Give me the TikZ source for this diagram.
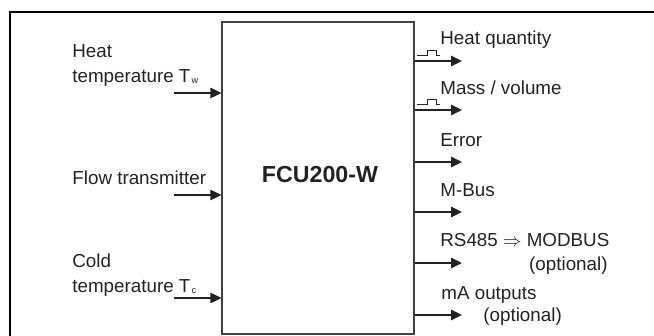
\documentclass[tikz,border=0pt]{standalone}
\usepackage{fontspec}
\setmainfont{Liberation Sans}
\usetikzlibrary{arrows.meta}
\definecolor{ink}{HTML}{222222}
\newcommand{\sub}[1]{\hspace{0.6pt}\raisebox{-0.4pt}{\fontsize{4.6}{5}\selectfont #1}}

\begin{document}
\begin{tikzpicture}[
  x=0.5pt,y=-0.5pt,
  font=\fontsize{9.4}{12.2}\selectfont,
  frame/.style={draw=black,line width=0.8pt},
  unit/.style={draw=black!75,line width=0.55pt,inner sep=0pt,
    minimum width=96pt,minimum height=156pt},
  sig/.style={draw=ink,line width=0.65pt,-{Triangle[length=5.5pt,width=5.2pt]}},
  pulse/.style={draw=ink,line width=0.45pt},
  lbl/.style={text=ink,inner sep=0pt},
]
\useasboundingbox (0,0) rectangle (654,336);
\draw[frame] (10,336) -- (10,12) -- (654,12);

% the unit
\node[unit] (fcu) at (318,178) {};
\node[lbl,font=\fontsize{11.6}{14}\selectfont\bfseries] (name) at (320,175) {FCU200-W};

% inputs
\coordinate (hw) at (174,93);
\coordinate (ft) at (174,195);
\coordinate (cw) at (174,298);
\draw[sig] (hw) -- (hw -| fcu.west);
\draw[sig] (ft) -- (ft -| fcu.west);
\draw[sig] (cw) -- (cw -| fcu.west);
\node[lbl,anchor=base west] (hwa) at (72,58) {Heat};
\node[lbl,anchor=base west] (hwb) at (72,83) {temperature T\sub{w}};
\node[lbl,anchor=base west] (fta) at (72,185) {Flow transmitter};
\node[lbl,anchor=base west] (cwa) at (72,268) {Cold};
\node[lbl,anchor=base west] (cwb) at (72,293) {temperature T\sub{c}};

% outputs
\coordinate (hq) at (462,61);
\coordinate (mv) at (462,110);
\coordinate (er) at (462,162);
\coordinate (mb) at (462,212);
\coordinate (rs) at (462,263);
\coordinate (ma) at (462,315);
\draw[sig] (hq -| fcu.east) -- (hq);
\draw[sig] (mv -| fcu.east) -- (mv);
\draw[sig] (er -| fcu.east) -- (er);
\draw[sig] (mb -| fcu.east) -- (mb);
\draw[sig] (rs -| fcu.east) -- (rs);
\draw[sig] (ma -| fcu.east) -- (ma);
\draw[pulse] (417,55.5) -- (427,55.5) -- (427,50.5) -- (436,50.5) -- (436,55.5) -- (440,55.5);
\draw[pulse] (417,104.5) -- (427,104.5) -- (427,99.5) -- (436,99.5) -- (436,104.5) -- (440,104.5);
\node[lbl,anchor=base west] (hqa) at (440,45) {Heat quantity};
\node[lbl,anchor=base west] (mva) at (440,95) {Mass / volume};
\node[lbl,anchor=base west] (era) at (440,147) {Error};
\node[lbl,anchor=base west] (mba) at (440,197) {M-Bus};
\node[lbl,anchor=base west] (rsa) at (440,247) {RS485 $\Rightarrow$ MODBUS};
\node[lbl,anchor=base east] (rsb) at (608,271) {(optional)};
\node[lbl,anchor=base west] (maa) at (441,300) {mA outputs};
\node[lbl,anchor=base west] (mab) at (483,322) {(optional)};
\end{tikzpicture}
\end{document}
